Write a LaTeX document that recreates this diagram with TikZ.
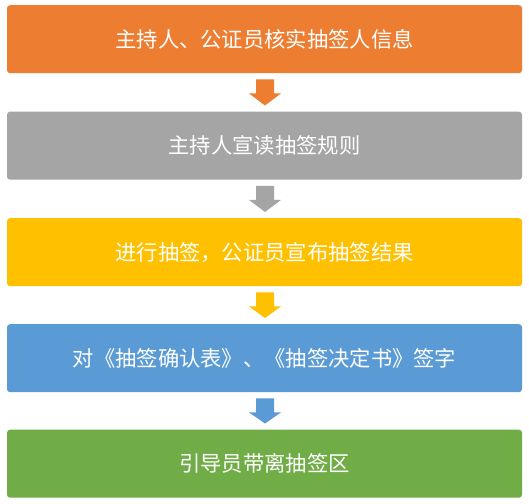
\documentclass[tikz,border=0pt]{standalone}
\usepackage{fontspec}
\newfontfamily\cjk{Noto Sans CJK SC}
\usetikzlibrary{calc}
\definecolor{cOrange}{HTML}{ED7D31}
\definecolor{cGray}{HTML}{A5A5A5}
\definecolor{cYellow}{HTML}{FFC000}
\definecolor{cBlue}{HTML}{5B9BD5}
\definecolor{cGreen}{HTML}{70AD47}
\tikzset{
  stepbox/.style={rectangle, rounded corners=3pt, minimum width=515pt, minimum height=68pt,
    inner sep=0pt, text=white, font=\cjk\fontsize{21.3pt}{24pt}\selectfont, anchor=north},
  blockarrow/.style={fill=#1, draw=none}
}
\newcommand\myarrow[3]{%
  \path let \p1=(#1.south), \p2=(#2.north) in
    [blockarrow=#3] (\x1+0.5pt-9pt,\y1-6pt) -- (\x1+0.5pt+9pt,\y1-6pt) -- (\x1+0.5pt+9pt,\y1-20pt)
    -- (\x1+0.5pt+16pt,\y1-20pt) -- (\x1+0.5pt,\y2+6pt) -- (\x1+0.5pt-16pt,\y1-20pt)
    -- (\x1+0.5pt-9pt,\y1-20pt) -- cycle;%
}
\begin{document}
\begin{tikzpicture}[x=1pt,y=-1pt]
\useasboundingbox[fill=white] (0,0) rectangle (529,503);
\node[stepbox, fill=cOrange] (s1) at (264.5,5) {主持人、公证员核实抽签人信息};
\node[stepbox, fill=cGray] (s2) at (264.5,111.5) {主持人宣读抽签规则};
\node[stepbox, fill=cYellow] (s3) at (264.5,218) {进行抽签，公证员宣布抽签结果};
\node[stepbox, fill=cBlue] (s4) at (264.5,324) {对《抽签确认表》、《抽签决定书》签字};
\node[stepbox, fill=cGreen] (s5) at (264.5,429.5) {引导员带离抽签区};
\myarrow{s1}{s2}{cOrange}
\myarrow{s2}{s3}{cGray}
\myarrow{s3}{s4}{cYellow}
\myarrow{s4}{s5}{cBlue}
\end{tikzpicture}
\end{document}
